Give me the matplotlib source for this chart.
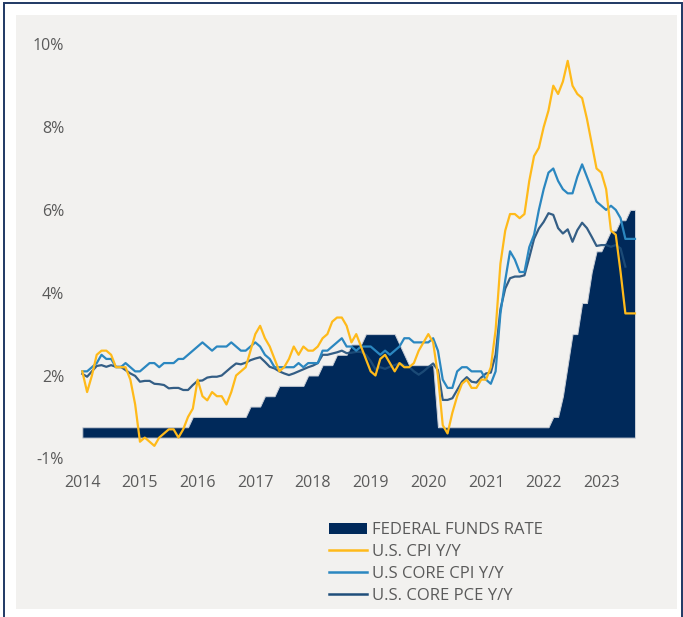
import matplotlib
matplotlib.use("Agg")
import matplotlib.pyplot as plt
import numpy as np
from matplotlib.patches import Rectangle, Patch
from matplotlib.lines import Line2D

# ---------------- data (monthly, Jan 2014 - Aug 2023) ----------------
years = ["2014", "2015", "2016", "2017", "2018", "2019", "2020", "2021", "2022", "2023"]

fed_funds = ([0.25] * 23 + [0.5] * 12 + [0.75] * 3 + [1.0] * 3 + [1.25] * 6 +
             [1.5] * 3 + [1.75] * 3 + [2.0] * 3 + [2.25] * 3 + [2.5] * 7 +
             [2.25, 2.0] + [1.75] * 6 + [0.25] * 24 +
             [0.5, 0.5, 1.0, 1.75, 2.5, 2.5, 3.25, 3.25, 4.0, 4.5, 4.5, 4.75,
              5.0, 5.0, 5.25, 5.25, 5.5, 5.5])

cpi = [1.6, 1.1, 1.5, 2.0, 2.1, 2.1, 2.0, 1.7, 1.7, 1.7, 1.4, 0.8,
       -0.1, 0.0, -0.1, -0.2, 0.0, 0.1, 0.2, 0.2, 0.0, 0.2, 0.5, 0.7,
       1.4, 1.0, 0.9, 1.1, 1.0, 1.0, 0.8, 1.1, 1.5, 1.6, 1.7, 2.1,
       2.5, 2.7, 2.4, 2.2, 1.9, 1.6, 1.7, 1.9, 2.2, 2.0, 2.2, 2.1,
       2.1, 2.2, 2.4, 2.5, 2.8, 2.9, 2.9, 2.7, 2.3, 2.5, 2.2, 1.9,
       1.6, 1.5, 1.9, 2.0, 1.8, 1.6, 1.8, 1.7, 1.7, 1.8, 2.1, 2.3,
       2.5, 2.3, 1.5, 0.3, 0.1, 0.6, 1.0, 1.3, 1.4, 1.2, 1.2, 1.4,
       1.4, 1.7, 2.6, 4.2, 5.0, 5.4, 5.4, 5.3, 5.4, 6.2, 6.8, 7.0,
       7.5, 7.9, 8.5, 8.3, 8.6, 9.1, 8.5, 8.3, 8.2, 7.7, 7.1, 6.5,
       6.4, 6.0, 5.0, 4.9, 4.0, 3.0, 3.0, 3.0]

core_cpi = [1.6, 1.6, 1.7, 1.8, 2.0, 1.9, 1.9, 1.7, 1.7, 1.8, 1.7, 1.6,
            1.6, 1.7, 1.8, 1.8, 1.7, 1.8, 1.8, 1.8, 1.9, 1.9, 2.0, 2.1,
            2.2, 2.3, 2.2, 2.1, 2.2, 2.2, 2.2, 2.3, 2.2, 2.1, 2.1, 2.2,
            2.3, 2.2, 2.0, 1.9, 1.7, 1.7, 1.7, 1.7, 1.7, 1.8, 1.7, 1.8,
            1.8, 1.8, 2.1, 2.1, 2.2, 2.3, 2.4, 2.2, 2.2, 2.1, 2.2, 2.2,
            2.2, 2.1, 2.0, 2.1, 2.0, 2.1, 2.2, 2.4, 2.4, 2.3, 2.3, 2.3,
            2.3, 2.4, 2.1, 1.4, 1.2, 1.2, 1.6, 1.7, 1.7, 1.6, 1.6, 1.6,
            1.4, 1.3, 1.6, 3.0, 3.8, 4.5, 4.3, 4.0, 4.0, 4.6, 4.9, 5.5,
            6.0, 6.4, 6.5, 6.2, 6.0, 5.9, 5.9, 6.3, 6.6, 6.3, 6.0, 5.7,
            5.6, 5.5, 5.6, 5.5, 5.3, 4.8, 4.8, 4.8]

core_pce = [1.54, 1.47, 1.60, 1.73, 1.75, 1.71, 1.75, 1.71, 1.71, 1.63, 1.55, 1.49,
            1.35, 1.37, 1.37, 1.30, 1.29, 1.27, 1.19, 1.20, 1.20, 1.15, 1.15, 1.27,
            1.37, 1.38, 1.45, 1.47, 1.47, 1.50, 1.60, 1.70, 1.79, 1.77, 1.81, 1.87,
            1.91, 1.94, 1.83, 1.71, 1.67, 1.60, 1.55, 1.51, 1.55, 1.60, 1.65, 1.70,
            1.74, 1.80, 2.00, 2.00, 2.03, 2.06, 2.10, 2.04, 2.05, 2.07, 2.07, 2.00,
            1.85, 1.65, 1.70, 1.66, 1.71, 1.75, 1.80, 1.75, 1.71, 1.60, 1.52, 1.60,
            1.70, 1.79, 1.63, 0.91, 0.91, 0.95, 1.15, 1.35, 1.46, 1.35, 1.33, 1.45,
            1.55, 1.57, 2.00, 3.10, 3.60, 3.85, 3.89, 3.89, 3.92, 4.35, 4.80, 5.05,
            5.21, 5.42, 5.38, 5.06, 4.93, 5.03, 4.73, 5.01, 5.19, 5.06, 4.85, 4.63,
            4.65, 4.65, 4.61, 4.65, 4.57, 4.13]

y_tick_labels = ["-1%", "2%", "4%", "6%", "8%", "10%"]
legend_labels = ["FEDERAL FUNDS RATE", "U.S. CPI Y/Y", "U.S CORE CPI Y/Y", "U.S. CORE PCE Y/Y"]

# ---------------- styling ----------------
C_FED = "#00295A"
C_CPI = "#FFBA1A"
C_CCPI = "#2B87C0"
C_PCE = "#1F4E7A"
TXT = "#5A5A5A"
FONT = ["Open Sans", "DejaVu Sans"]
plt.rcParams["font.family"] = FONT

W, H = 683, 617
fig = plt.figure(figsize=(W / 100, H / 100), dpi=100)
fig.patch.set_facecolor("white")

# gray panel and outer border
fig.patches.append(Rectangle((16 / W, 1 - 609 / H), (677 - 16) / W, (609 - 15) / H,
                             transform=fig.transFigure, facecolor="#F2F1EF",
                             edgecolor="none", zorder=-3))
fig.patches.append(Rectangle((3.5 / W, -0.05), (681.5 - 3.5) / W, 1 - 2.5 / H + 0.05,
                             transform=fig.transFigure, fill=False,
                             edgecolor="#1F3864", lw=1.4, zorder=-2))

ax = fig.add_axes([70 / W, 1 - 465 / H, 590 / W, 440 / H])
ax.set_zorder(2)
ax.set_facecolor("none")

x = np.arange(len(cpi))
xf = np.arange(len(fed_funds))
xp = np.arange(len(core_pce))

ax.fill_between(xf, fed_funds, 0, facecolor=C_FED, edgecolor="#C9CED6",
                lw=0.7, zorder=2)
ax.plot(xp, core_pce, color=C_PCE, lw=1.6, zorder=3, alpha=0.9)
ax.plot(x, core_cpi, color=C_CCPI, lw=1.6, zorder=4)
ax.plot(x, cpi, color=C_CPI, lw=1.6, zorder=5)

px_per_month = 4.806
x0_px = 82.3
ax.set_xlim((70 - x0_px) / px_per_month, (660 - x0_px) / px_per_month)
zero_px, px_per_pct = 437.6, 41.4
ax.set_ylim((zero_px - 465) / px_per_pct, (zero_px - 25) / px_per_pct)

ax.set_xticks(np.arange(len(years)) * 12)
ax.set_xticklabels(years)
ax.set_yticks(np.arange(len(y_tick_labels)) * 2 - 0.5)
ax.set_yticklabels(y_tick_labels)
ax.tick_params(axis="both", length=0, labelsize=11.5, colors=TXT)
ax.tick_params(axis="y", pad=4.3)
ax.tick_params(axis="x", pad=7)
for s in ax.spines.values():
    s.set_visible(False)

handles = [Patch(facecolor=C_FED, edgecolor="none"),
           Line2D([], [], color=C_CPI, lw=1.8),
           Line2D([], [], color=C_CCPI, lw=1.8),
           Line2D([], [], color=C_PCE, lw=1.8)]
leg = fig.legend(handles, legend_labels, loc="upper left",
                 bbox_to_anchor=(329 / W, 1 - 522 / H), frameon=False,
                 fontsize=12, handlelength=2.3, handletextpad=0.25,
                 labelspacing=0.36, borderpad=0, borderaxespad=0,
                 handleheight=0.65)
for t in leg.get_texts():
    t.set_color(TXT)

fig.savefig("out.png", dpi=100, facecolor=fig.get_facecolor())
